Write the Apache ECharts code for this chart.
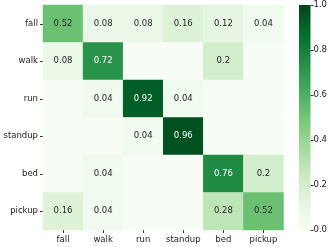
<!DOCTYPE html>
<html>
<head>
<meta charset="utf-8">
<script src="https://cdn.jsdelivr.net/npm/echarts@6/dist/echarts.min.js"></script>
<style>html,body{margin:0;padding:0;background:#fff;}#c{width:333px;height:247px;}</style>
</head>
<body>
<div id="c"></div>
<script>
const categories = ['fall', 'walk', 'run', 'standup', 'bed', 'pickup'];
// rows = true class, columns = predicted class
const matrixRows = [
  [0.52, 0.08, 0.08, 0.16, 0.12, 0.04],
  [0.08, 0.72, 0, 0, 0.2, 0],
  [0, 0.04, 0.92, 0.04, 0, 0],
  [0, 0, 0.04, 0.96, 0, 0],
  [0, 0.04, 0, 0, 0.76, 0.2],
  [0.16, 0.04, 0, 0, 0.28, 0.52]
];
const colorbarTicks = [0, 0.2, 0.4, 0.6, 0.8, 1.0];
const greens = ['#f7fcf5', '#e5f5e0', '#c7e9c0', '#a1d99b', '#74c476', '#41ab5d', '#238b45', '#006d2c', '#00441b'];

const FONT = 'DejaVu Sans';
const data = [];
matrixRows.forEach((row, r) => {
  row.forEach((v, c) => {
    data.push({
      value: [c, r, v],
      label: { color: v > 0.6 ? '#ffffff' : '#262626' }
    });
  });
});

const stops = greens.map((col, i) => ({ offset: 1 - i / (greens.length - 1), color: col }));

const chart = echarts.init(document.getElementById('c'), null, { renderer: 'canvas' });
chart.setOption({
  animation: false,
  backgroundColor: '#ffffff',
  textStyle: { fontFamily: FONT },
  grid: [
    { left: 43, top: 5, width: 240.5, height: 225 },
    { left: 299, top: 5, width: 11.5, height: 225 }
  ],
  xAxis: [
    {
      type: 'category', gridIndex: 0, data: categories, position: 'bottom',
      axisLine: { show: false },
      axisTick: { show: true, alignWithLabel: true, interval: 0, length: 3, lineStyle: { color: '#333' } },
      axisLabel: { interval: 0, fontSize: 8.5, color: '#222', margin: 5, fontFamily: FONT },
      splitLine: { show: false }
    },
    {
      type: 'category', gridIndex: 1, data: ['cb'], show: false
    }
  ],
  yAxis: [
    {
      type: 'category', gridIndex: 0, data: categories, inverse: true,
      axisLine: { show: false },
      axisTick: { show: true, alignWithLabel: true, interval: 0, length: 3, lineStyle: { color: '#333' } },
      axisLabel: { interval: 0, fontSize: 8.5, color: '#222', margin: 5, fontFamily: FONT },
      splitLine: { show: false }
    },
    {
      type: 'value', gridIndex: 1, min: 0, max: 1, interval: 0.2, position: 'right',
      axisLine: { show: false },
      axisTick: { show: true, length: 3, inside: false, lineStyle: { color: '#333' } },
      axisLabel: { fontSize: 8.5, color: '#222', margin: 3, fontFamily: FONT,
        formatter: v => v.toFixed(1) },
      splitLine: { show: false }
    }
  ],
  visualMap: {
    show: false, min: 0, max: 1, seriesIndex: 0, dimension: 2,
    inRange: { color: greens }
  },
  series: [
    {
      type: 'heatmap', xAxisIndex: 0, yAxisIndex: 0, data: data,
      itemStyle: { borderWidth: 0 },
      label: {
        show: true, fontSize: 8.5, fontFamily: FONT,
        formatter: p => p.value[2] === 0 ? '' : String(p.value[2])
      },
      emphasis: { disabled: true }
    },
    {
      type: 'bar', xAxisIndex: 1, yAxisIndex: 1, data: [1], barWidth: '100%',
      itemStyle: { color: new echarts.graphic.LinearGradient(0, 0, 0, 1, stops) },
      silent: true
    }
  ]
});
</script>
</body>
</html>
